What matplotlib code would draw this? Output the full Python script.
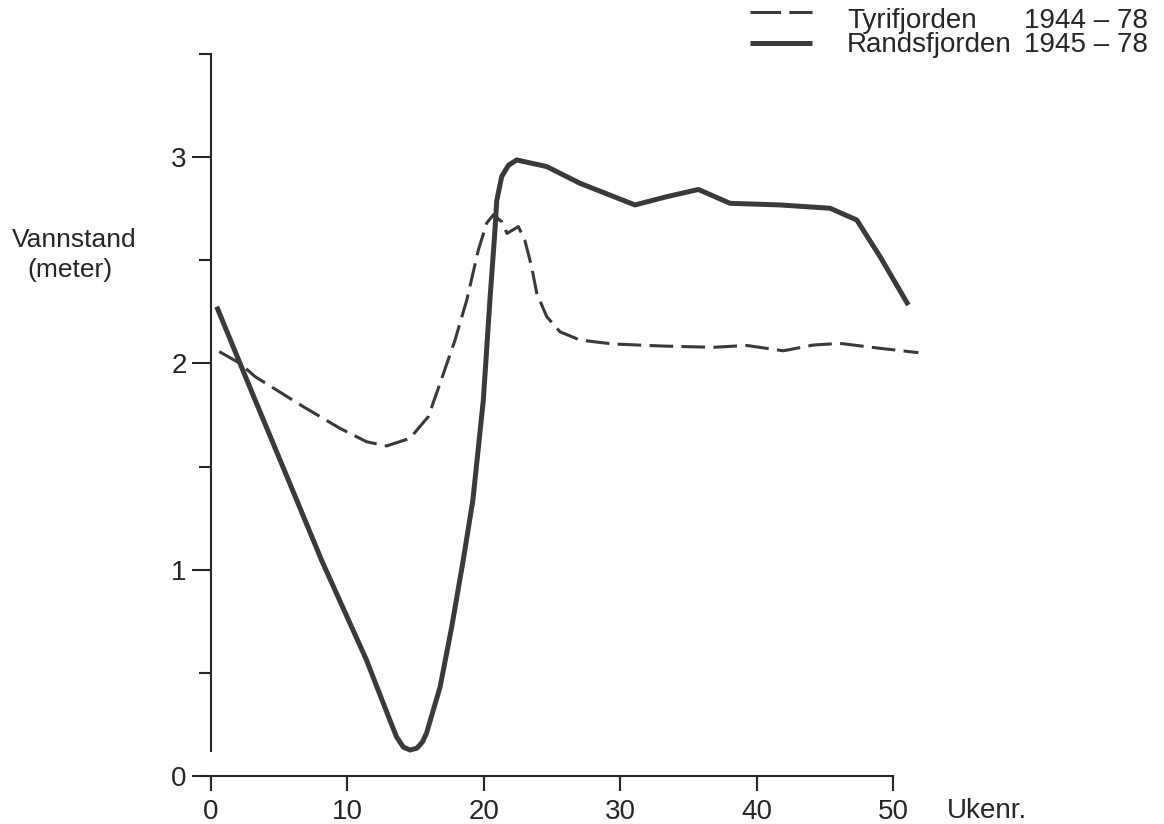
import matplotlib
matplotlib.use("Agg")
import matplotlib.pyplot as plt
from matplotlib.lines import Line2D

plt.rcParams['font.family'] = ['Liberation Sans', 'DejaVu Sans']
plt.rcParams['lines.scale_dashes'] = False

# Randsfjorden 1945-78 (solid), week number vs water level (m)
rands_week = [0.42, 3.0, 6.16, 8.1, 11.4, 13.0, 13.6, 14.1, 14.6, 15.1, 15.5, 15.8, 16.8, 17.65,
              18.5, 19.2, 19.96, 20.45, 20.8, 20.95, 21.31, 21.8, 22.41, 24.61, 27.05,
              31.08, 33.41, 35.73, 38.05, 41.72, 45.38, 47.34, 49.05, 51.12]
rands_level = [2.275, 1.86, 1.357, 1.047, 0.562, 0.29, 0.19, 0.14, 0.126, 0.135, 0.165, 0.207,
               0.433, 0.724, 1.05, 1.338, 1.82, 2.31, 2.63, 2.79, 2.905, 2.96, 2.986, 2.954,
               2.873, 2.768, 2.808, 2.843, 2.776, 2.768, 2.752, 2.695, 2.517, 2.283]

# Tyrifjorden 1944-78 (dashed)
tyri_week = [0.61, 2.13, 3.23, 6.77, 9.46, 11.41, 12.88, 14.59, 15.93, 16.79, 17.89,
             18.75, 19.6, 20.21, 20.7, 21.31, 21.7, 22.53, 23.0, 23.5, 23.88, 24.61,
             25.59, 27.05, 29.5, 33.16, 36.83, 39.27, 41.96, 44.16, 46.11, 49.05, 51.86]
tyri_level = [2.057, 2.0, 1.936, 1.79, 1.685, 1.62, 1.6, 1.637, 1.742, 1.903, 2.113,
              2.307, 2.55, 2.68, 2.72, 2.687, 2.63, 2.663, 2.598, 2.47, 2.34, 2.227,
              2.153, 2.113, 2.094, 2.084, 2.078, 2.087, 2.061, 2.089, 2.097, 2.073, 2.052]

x_ticks = [0, 10, 20, 30, 40, 50]
y_ticks = [0, 1, 2, 3]
y_minor = [0.5, 1.5, 2.5, 3.5]

W, H = 1164, 824
ink = '#262626'
line_col = '#3a3a3a'


def fx(px):
    return px / W


def fy(py):
    return 1 - py / H


fig = plt.figure(figsize=(W / 100, H / 100), dpi=100)
ax = fig.add_axes([0.1672, 0.05825, 0.6352, 0.8813])
ax.set_xlim(-1.2, 53)
ax.set_ylim(0, 3.52)

ax.plot(rands_week, rands_level, color=line_col, lw=3.6, solid_capstyle='butt',
        solid_joinstyle='round')
ax.plot(tyri_week, tyri_level, color=line_col, lw=2.2, dashes=(17, 6),
        dash_capstyle='butt')

for s in ['top', 'right']:
    ax.spines[s].set_visible(False)
ax.spines['left'].set_position(('data', 0))
ax.spines['left'].set_bounds(0.12, 3.5)
ax.spines['bottom'].set_bounds(-1.0, 50)
for s in ['left', 'bottom']:
    ax.spines[s].set_linewidth(1.5)
    ax.spines[s].set_color(ink)

ax.set_xticks(x_ticks)
ax.set_yticks(y_ticks)
ax.set_yticks(y_minor, minor=True)
ax.tick_params(axis='x', direction='out', length=10.8, width=1.5, pad=5.5,
               labelsize=20, colors=ink)
ax.tick_params(axis='y', which='major', direction='out', length=13.5, width=1.5,
               pad=4, labelsize=20, colors=ink)
ax.tick_params(axis='y', which='minor', direction='out', length=8.5, width=1.5,
               colors=ink)
ax.patch.set_visible(False)

# axis titles
fig.text(fx(12), fy(247), 'Vannstand', fontsize=19, color=ink, ha='left', va='baseline')
fig.text(fx(27), fy(277), '(meter)', fontsize=19, color=ink, ha='left', va='baseline')
fig.text(fx(947), fy(818), 'Ukenr.', fontsize=20, color=ink, ha='left', va='baseline')

# legend
fig.add_artist(Line2D([fx(750), fx(812)], [fy(12), fy(12)], transform=fig.transFigure,
                      color=line_col, lw=2.2, dashes=(22, 6)))
fig.add_artist(Line2D([fx(750), fx(812)], [fy(43), fy(43)], transform=fig.transFigure,
                      color=line_col, lw=3.6, solid_capstyle='butt'))
fig.text(fx(847), fy(28), 'Tyrifjorden', fontsize=20, color=ink, ha='left', va='baseline')
fig.text(fx(847), fy(52), 'Randsfjorden', fontsize=20, color=ink, ha='left', va='baseline')
fig.text(fx(1148), fy(28), '1944 – 78', fontsize=20, color=ink, ha='right', va='baseline')
fig.text(fx(1148), fy(52), '1945 – 78', fontsize=20, color=ink, ha='right', va='baseline')

fig.savefig('out.png', dpi=100)
